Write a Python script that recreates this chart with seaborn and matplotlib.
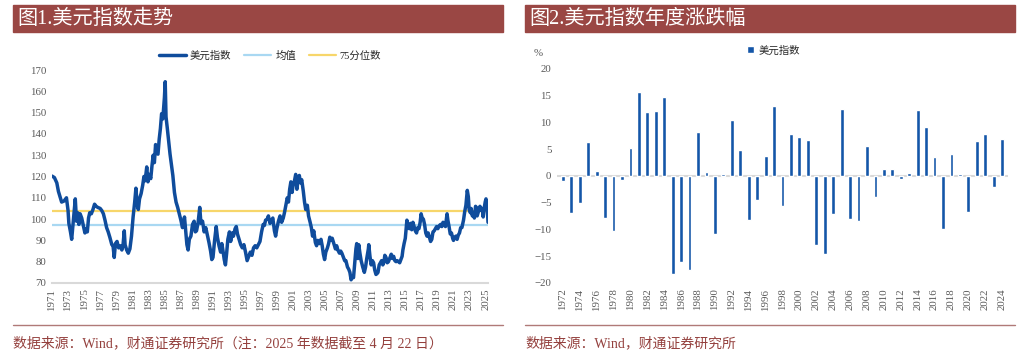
"""
USD index: long-run trend (left) and yearly change (right).
"""

import matplotlib
matplotlib.use("Agg")
import matplotlib.pyplot as plt
from matplotlib.patches import Rectangle
from matplotlib.lines import Line2D
import pandas as pd
import seaborn as sns

# ---- data ------------------------------------------------------------------
dxy_time = [
    1971.0, 1971.3, 1971.6, 1971.8, 1972.0, 1972.2, 1972.5, 1972.8, 1973.0, 1973.1,
    1973.3, 1973.45, 1973.6, 1973.75, 1973.9, 1974.05, 1974.2, 1974.35, 1974.5, 1974.7,
    1974.9, 1975.1, 1975.25, 1975.4, 1975.55, 1975.7, 1975.9, 1976.1, 1976.3, 1976.5,
    1976.7, 1977.0, 1977.2, 1977.4, 1977.6, 1977.8, 1978.0, 1978.2, 1978.45, 1978.6,
    1978.75, 1978.9, 1979.1, 1979.3, 1979.5, 1979.7, 1979.85, 1980.0, 1980.1, 1980.3,
    1980.5, 1980.7, 1980.9, 1981.1, 1981.3, 1981.45, 1981.6, 1981.75, 1981.9, 1982.1,
    1982.3, 1982.45, 1982.6, 1982.8, 1982.95, 1983.1, 1983.3, 1983.45, 1983.6, 1983.75,
    1983.9, 1984.05, 1984.2, 1984.35, 1984.5, 1984.65, 1984.8, 1984.9, 1985.0, 1985.1,
    1985.2, 1985.35, 1985.5, 1985.7, 1985.9, 1986.05, 1986.25, 1986.45, 1986.65, 1986.85,
    1987.05, 1987.25, 1987.4, 1987.5, 1987.65, 1987.8, 1987.95, 1988.1, 1988.3, 1988.5,
    1988.7, 1988.85, 1989.0, 1989.2, 1989.4, 1989.55, 1989.75, 1989.95, 1990.15, 1990.35,
    1990.55, 1990.75, 1990.9, 1991.05, 1991.25, 1991.45, 1991.6, 1991.8, 1992.0, 1992.15,
    1992.3, 1992.45, 1992.6, 1992.75, 1992.9, 1993.1, 1993.25, 1993.45, 1993.6, 1993.8,
    1993.95, 1994.1, 1994.3, 1994.5, 1994.7, 1994.9, 1995.1, 1995.3, 1995.5, 1995.7,
    1995.9, 1996.1, 1996.3, 1996.5, 1996.7, 1996.9, 1997.1, 1997.3, 1997.45, 1997.6,
    1997.8, 1997.95, 1998.15, 1998.3, 1998.5, 1998.7, 1998.85, 1999.0, 1999.2, 1999.4,
    1999.6, 1999.8, 1999.95, 2000.1, 2000.3, 2000.45, 2000.6, 2000.75, 2000.9, 2001.05,
    2001.2, 2001.35, 2001.5, 2001.65, 2001.8, 2001.95, 2002.1, 2002.3, 2002.45, 2002.6,
    2002.8, 2002.95, 2003.15, 2003.3, 2003.45, 2003.6, 2003.8, 2003.95, 2004.1, 2004.3,
    2004.5, 2004.65, 2004.8, 2004.95, 2005.1, 2005.3, 2005.45, 2005.6, 2005.75, 2005.9,
    2006.1, 2006.3, 2006.45, 2006.6, 2006.8, 2006.95, 2007.1, 2007.3, 2007.45, 2007.6,
    2007.8, 2007.95, 2008.1, 2008.25, 2008.4, 2008.55, 2008.7, 2008.85, 2008.95, 2009.1,
    2009.2, 2009.35, 2009.5, 2009.7, 2009.9, 2010.05, 2010.2, 2010.4, 2010.45, 2010.6,
    2010.75, 2010.9, 2011.05, 2011.2, 2011.35, 2011.5, 2011.6, 2011.75, 2011.9, 2012.05,
    2012.2, 2012.35, 2012.45, 2012.6, 2012.75, 2012.9, 2013.1, 2013.25, 2013.4, 2013.55,
    2013.7, 2013.85, 2014.0, 2014.15, 2014.3, 2014.45, 2014.6, 2014.7, 2014.85, 2015.0,
    2015.1, 2015.2, 2015.35, 2015.5, 2015.65, 2015.8, 2015.95, 2016.1, 2016.25, 2016.4,
    2016.55, 2016.7, 2016.85, 2016.97, 2017.1, 2017.25, 2017.4, 2017.55, 2017.7, 2017.85,
    2018.0, 2018.15, 2018.3, 2018.45, 2018.6, 2018.75, 2018.9, 2019.05, 2019.25, 2019.4,
    2019.55, 2019.7, 2019.85, 2020.0, 2020.2, 2020.3, 2020.45, 2020.6, 2020.75, 2020.9,
    2021.0, 2021.15, 2021.3, 2021.45, 2021.6, 2021.75, 2021.9, 2022.05, 2022.25, 2022.4,
    2022.55, 2022.72, 2022.85, 2022.95, 2023.1, 2023.2, 2023.35, 2023.5, 2023.6, 2023.75,
    2023.85, 2023.95, 2024.1, 2024.3, 2024.45, 2024.6, 2024.7, 2024.8, 2024.95, 2025.05,
    2025.15, 2025.22, 2025.3,
]
dxy_value = [
    120.2, 119.5, 117.0, 113.0, 110.5, 108.0, 108.5, 110.0, 104.0, 98.0,
    94.0, 90.5, 97.0, 103.0, 109.5, 99.0, 103.0, 97.5, 102.5, 100.5,
    97.0, 93.5, 95.5, 94.0, 100.5, 103.0, 102.5, 104.5, 107.0, 106.0,
    105.5, 105.0, 104.0, 102.5, 99.5, 96.0, 94.0, 91.5, 88.0, 87.5,
    82.0, 88.5, 89.5, 86.5, 87.5, 85.5, 88.0, 94.5, 88.0, 85.5,
    84.0, 86.0, 92.0, 101.0, 108.0, 114.5, 107.0, 104.5, 109.5, 112.0,
    116.0, 120.0, 118.0, 124.5, 117.5, 121.0, 119.0, 125.0, 130.0, 126.5,
    135.0, 131.0, 130.5, 137.5, 142.5, 149.5, 147.0, 152.0, 157.0, 164.5,
    148.0, 143.0, 137.5, 130.5, 125.0, 120.5, 112.5, 108.0, 105.5, 102.5,
    99.5, 96.0, 98.5, 101.0, 94.5, 88.0, 85.5, 90.5, 92.0, 97.5,
    99.0, 94.0, 94.5, 98.5, 105.5, 98.0, 99.0, 94.0, 96.0, 92.5,
    89.0, 85.0, 81.0, 82.0, 90.0, 96.5, 91.5, 87.5, 84.5, 88.5,
    85.0, 81.0, 78.5, 84.0, 90.5, 94.0, 89.5, 93.5, 92.0, 95.5,
    96.5, 93.0, 90.5, 88.0, 86.5, 88.0, 84.5, 80.5, 82.5, 84.5,
    83.0, 86.5, 87.5, 86.5, 88.0, 89.5, 94.0, 97.5, 97.0, 99.5,
    100.0, 101.5, 98.0, 99.0, 100.5, 94.5, 92.0, 95.5, 99.0, 101.5,
    98.5, 100.5, 103.0, 106.0, 110.0, 108.0, 114.0, 117.5, 112.5, 116.5,
    118.0, 121.0, 114.0, 118.5, 120.5, 117.0, 118.5, 113.0, 108.0, 104.5,
    106.5, 101.5, 98.5, 96.0, 92.0, 94.5, 89.0, 87.5, 90.0, 88.5,
    90.5, 87.5, 83.5, 81.0, 84.5, 86.5, 88.5, 91.5, 90.0, 91.0,
    88.5, 86.0, 87.5, 85.5, 84.0, 85.0, 84.0, 82.0, 80.5, 80.5,
    77.5, 76.5, 75.0, 71.5, 73.0, 72.5, 79.5, 86.0, 88.5, 81.5,
    88.0, 84.0, 80.5, 77.5, 75.0, 77.5, 81.5, 86.0, 88.0, 82.5,
    78.5, 80.5, 79.5, 76.0, 74.0, 74.5, 75.0, 78.5, 79.5, 80.5,
    78.5, 80.0, 83.0, 82.0, 79.5, 80.0, 82.0, 83.5, 81.5, 82.5,
    80.5, 80.0, 80.5, 80.0, 79.5, 81.0, 82.5, 85.5, 88.5, 91.0,
    95.0, 99.5, 96.0, 95.5, 98.0, 95.0, 98.5, 96.5, 94.5, 93.5,
    96.0, 95.5, 98.5, 102.5, 100.5, 100.0, 97.5, 93.5, 92.0, 93.5,
    91.5, 89.5, 90.5, 94.0, 94.5, 95.5, 96.5, 95.5, 97.0, 97.5,
    96.5, 98.5, 97.5, 96.5, 102.5, 99.5, 96.5, 93.0, 93.5, 91.0,
    90.0, 91.5, 92.0, 90.5, 92.5, 93.5, 96.0, 96.0, 99.5, 103.5,
    106.5, 113.5, 110.5, 104.5, 103.0, 105.0, 101.5, 103.0, 100.5, 106.0,
    105.5, 101.5, 103.5, 106.0, 104.0, 105.0, 101.0, 104.5, 108.0, 109.5,
    106.5, 104.0, 98.5,
]
dxy_mean = 97.3
dxy_p75 = 104.0

bar_years = list(range(1972, 2025))
bar_changes = [
    -1.0, -7.0, -5.0, 6.3, 0.9, -7.8, -10.2, -0.8, 5.3, 15.7,
    12.0, 12.1, 14.8, -18.4, -16.1, -17.5, 8.2, 0.7, -10.8, 0.3,
    10.4, 4.8, -8.3, -4.5, 3.8, 13.1, -5.6, 7.9, 7.3, 6.8,
    -12.9, -14.6, -7.1, 12.6, -8.1, -8.4, 5.7, -4.0, 1.3, 1.4,
    -0.6, 0.5, 12.4, 9.2, 3.6, -9.9, 4.1, 0.3, -6.8, 6.6,
    7.8, -2.1, 6.9,
]

title_left = "图1.美元指数走势"
title_right = "图2.美元指数年度涨跌幅"
source_left = "数据来源：Wind，财通证券研究所（注：2025 年数据截至 4 月 22 日）"
source_right = "数据来源：Wind，财通证券研究所"

# ---- style -------------------------------------------------------------------
BLUE = "#0F4C9C"
BAR_BLUE = "#1456A8"
MEAN_C = "#A9D8F2"
P75_C = "#F7D66A"
BANNER = "#9A4744"
SRC_C = "#94403D"
GRID_C = "#D9D9D9"
TICK_C = "#595959"

sns.set_theme(style="white")
plt.rcParams["font.family"] = ["Liberation Serif", "Noto Sans CJK SC"]

W, H = 1024, 362
fig = plt.figure(figsize=(W / 100, H / 100), dpi=100)


def fx(px):
    return px / W


def fy(py):
    return 1 - py / H


def frame(x0, x1, title, source):
    # red banner with the title, footer rule and source line
    fig.patches.append(Rectangle((fx(x0), fy(32)), fx(x1 - x0), 27 / H,
                                 transform=fig.transFigure, color=BANNER, zorder=0))
    fig.text(fx(x0 + 4), fy(19), title, color="white", fontsize=14.5,
             va="center", ha="left")
    fig.add_artist(Line2D([fx(x0), fx(x1)], [fy(325), fy(325)],
                          transform=fig.transFigure, color="#B07A78", lw=1))
    fig.text(fx(x0), fy(343), source, color=SRC_C, fontsize=10,
             va="center", ha="left")


frame(13, 503, title_left, source_left)
frame(525, 1015, title_right, source_right)

# ---- left: index trend -------------------------------------------------------
ax1 = fig.add_axes([fx(52), fy(283), fx(436), 213 / H])
df_line = pd.DataFrame({"t": dxy_time, "v": dxy_value})
sns.lineplot(data=df_line, x="t", y="v", ax=ax1, color=BLUE, lw=2.5,
             label="美元指数", zorder=3)
ax1.axhline(dxy_mean, color=MEAN_C, lw=1.6, label="均值", zorder=2)
ax1.axhline(dxy_p75, color=P75_C, lw=1.6, label="75分位数", zorder=2)
ax1.set_xlim(1971, 2025.3)
ax1.set_ylim(70, 170)
ax1.set_yticks(range(70, 171, 10))
ax1.set_xticks(range(1971, 2026, 2))
ax1.set_xticklabels([str(y) for y in range(1971, 2026, 2)], rotation=90)
ax1.set_xlabel("")
ax1.set_ylabel("")
for s in ["top", "right", "left"]:
    ax1.spines[s].set_visible(False)
ax1.spines["bottom"].set_color(GRID_C)
ax1.spines["bottom"].set_linewidth(1.5)
ax1.tick_params(axis="both", labelsize=7.8, colors=TICK_C, length=0, pad=4)
ax1.legend(loc="lower center", bbox_to_anchor=(0.5, 1.0), ncol=3, frameon=False,
           fontsize=7.5, handlelength=2.6, columnspacing=1.2, handletextpad=0.4)

# ---- right: yearly change ----------------------------------------------------
ax2 = fig.add_axes([fx(557), fy(283), fx(451), 214 / H])
df_bar = pd.DataFrame({"year": [str(y) for y in bar_years], "chg": bar_changes})
sns.barplot(data=df_bar, x="year", y="chg", ax=ax2, color=BAR_BLUE, width=0.45,
            saturation=1, label="美元指数", zorder=3)
ax2.axhline(0, color=GRID_C, lw=1.5, zorder=1)
ax2.set_xlim(-0.7, len(bar_years) - 0.3)
ax2.set_ylim(-20, 20)
ax2.set_yticks(range(-20, 21, 5))
tick_idx = list(range(0, len(bar_years), 2))
ax2.set_xticks(tick_idx)
ax2.set_xticklabels([str(bar_years[i]) for i in tick_idx], rotation=90)
ax2.set_xlabel("")
ax2.set_ylabel("")
for s in ax2.spines.values():
    s.set_visible(False)
ax2.tick_params(axis="both", labelsize=7.8, colors=TICK_C, length=0, pad=4)
ax2.legend(loc="lower center", bbox_to_anchor=(0.48, 1.02), frameon=False,
           fontsize=7.5, handlelength=0.7, handleheight=0.7, handletextpad=0.4)
fig.text(fx(534), fy(53), "%", color=TICK_C, fontsize=7.8, va="center", ha="left")

fig.savefig("out.png", dpi=100)
